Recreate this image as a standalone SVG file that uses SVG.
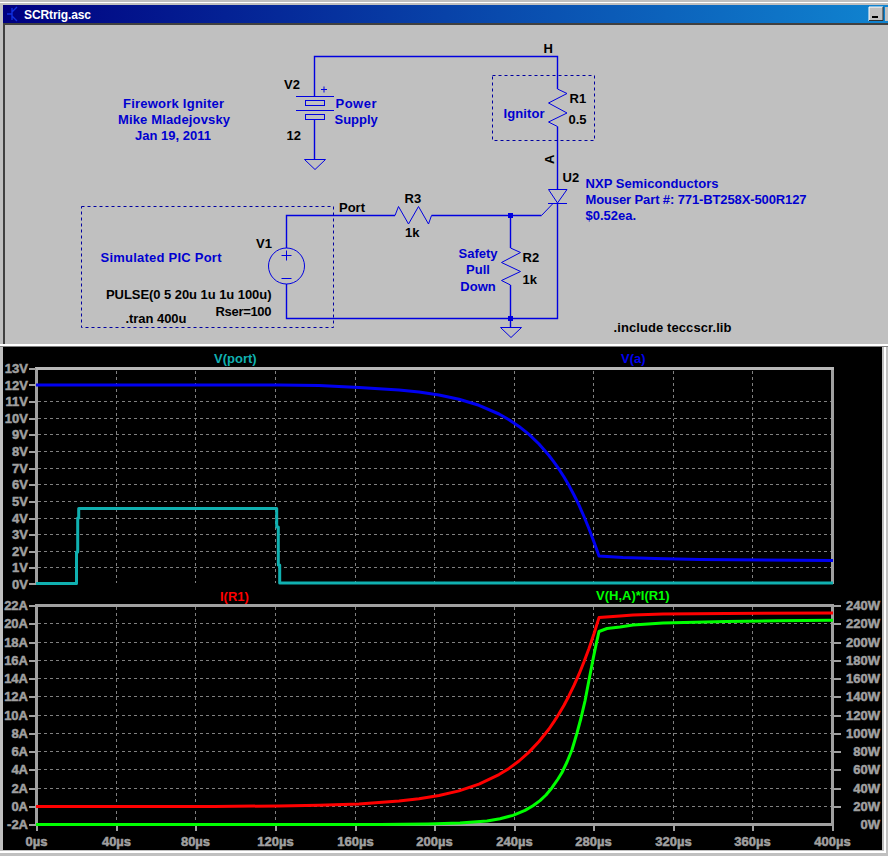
<svg xmlns="http://www.w3.org/2000/svg" width="888" height="856" viewBox="0 0 888 856">
<style>
text{font-family:"Liberation Sans",Arial,sans-serif;font-weight:700;font-size:13px}
.b{fill:#0000d0}.k{fill:#000}
.sym,.wire{fill:none;stroke:#0000e0;stroke-width:1}
.wire{stroke-width:1.4}
.dash{fill:none;stroke:#0000a0;stroke-width:1;stroke-dasharray:3 3}
.ax{fill:#a0a0a0;font-size:14px;font-weight:400;stroke:#a0a0a0;stroke-width:.5}
.xl{text-anchor:middle}.yl{text-anchor:end}
.grid{fill:none;stroke:#808080;stroke-width:1;stroke-dasharray:3 3;shape-rendering:crispEdges}
.frame{fill:none;stroke:#a0a0a0;stroke-width:3;shape-rendering:crispEdges}
.tick{fill:none;stroke:#a0a0a0;stroke-width:2;shape-rendering:crispEdges}
.tr{fill:none;stroke-width:3;stroke-linejoin:round}
</style>
<defs>
<linearGradient id="tb" x1="0" x2="1" y1="0" y2="0"><stop offset="0" stop-color="#000080"/><stop offset="1" stop-color="#1084d0"/></linearGradient>
</defs>
<g id="window">
<rect width="888" height="856" fill="#c0c0c0"/>
<rect y="2" width="888" height="1" fill="#fff"/>
<rect x="3" y="5" width="885" height="18" fill="url(#tb)"/>
<rect x="3" y="23" width="885" height="2" fill="#404040"/>
<rect x="3" y="25" width="2" height="320" fill="#404040"/>
<rect y="344" width="888" height="2" fill="#fff"/>
<rect y="346" width="888" height="1" fill="#808080"/>
<rect x="3" y="347" width="879" height="503" fill="#000"/>
<rect x="884" y="347" width="2" height="506" fill="#fff"/>
<rect y="851" width="886" height="2" fill="#fff"/>
<g fill="none" stroke="#1030e0" stroke-width="1.4"><path d="M7 14H12M12 8V20M12 12L17 7M12 16L17 21"/></g>
<text x="24" y="18.5" fill="#fff" style="font-size:12px" textLength="67" lengthAdjust="spacing">SCRtrig.asc</text>
<rect x="869" y="7" width="14" height="14" fill="#c0c0c0"/>
<path d="M869 21V7H883" fill="none" stroke="#fff"/>
<path d="M869 20.5H883V7" fill="none" stroke="#303030"/>
<rect x="872" y="16" width="6" height="2" fill="#000"/>
<rect x="885" y="7" width="3" height="14" fill="#c0c0c0"/>
</g>
<g id="wires">
<path class="wire" d="M314.5 96.5V56.5H557.5V89"/>
<path class="wire" d="M314.5 119.5V159.5"/>
<path class="wire" d="M557.5 126.5V189.5"/>
<path class="wire" d="M286.5 248V215.5H395"/>
<path class="wire" d="M431.5 215.5H541.5"/>
<path class="wire" d="M510.5 215.5V248"/>
<path class="wire" d="M510.5 285V327.5"/>
<path class="wire" d="M286.5 284V318.5H557.5V203"/>
<rect x="508" y="213" width="5" height="5" fill="#0000e0"/>
<rect x="508" y="316" width="5" height="5" fill="#0000e0"/>
</g>
<g id="V2">
<path class="sym" d="M296 96.5H334M296 110.5H334"/>
<rect class="sym" x="305.5" y="100.5" width="19" height="5"/>
<rect class="sym" x="305.5" y="114.5" width="19" height="5"/>
<path class="sym" d="M321 89.5H327M324 86.5V92.5"/>
<text class="k" x="284" y="89">V2</text>
<text class="k" x="286.5" y="140">12</text>
</g>
<g id="GND1"><path class="sym" d="M304.5 159.5H325.5L315 169.5Z"/></g>
<g id="GND2"><path class="sym" d="M500.5 327.5H521.5L511 337.5Z"/></g>
<g id="V1">
<circle class="sym" cx="286.5" cy="266" r="18"/>
<path class="sym" d="M281.5 255.5H291.5M286.5 250.5V260.5M281.5 278.5H291.5"/>
<text class="k" x="256" y="248">V1</text>
<text class="k" x="106" y="299" textLength="165.5">PULSE(0 5 20u 1u 1u 100u)</text>
<text class="k" x="215.5" y="316" textLength="56">Rser=100</text>
</g>
<g id="R3">
<path class="sym" d="M395 215.5L398.5 206.5L408.5 224L418.5 206.5L428.5 224L431.5 215.5"/>
<text class="k" x="404.5" y="203">R3</text>
<text class="k" x="405" y="237">1k</text>
</g>
<g id="R1">
<path class="sym" d="M557.5 89L567 93.5L548.5 103L567 113L548.5 122L557.5 126.5"/>
<text class="k" x="569.5" y="103">R1</text>
<text class="k" x="568.5" y="124">0.5</text>
</g>
<g id="R2">
<path class="sym" d="M510.5 248L520.5 252.5L501.5 262.5L520.5 271.5L501.5 280.5L510.5 285"/>
<text class="k" x="522.5" y="262">R2</text>
<text class="k" x="522.5" y="283.5">1k</text>
</g>
<g id="U2">
<path class="sym" d="M548.5 189.5H567L557.5 203Z"/>
<path class="sym" d="M548 203.5H567M552.5 204L541.5 215.5"/>
<text class="k" x="562.5" y="182">U2</text>
</g>
<g id="labels">
<rect class="dash" x="81.5" y="206.5" width="252" height="121"/>
<rect class="dash" x="492.5" y="75.5" width="102" height="65"/>
<text class="k" x="339" y="212">Port</text>
<text class="k" x="543.5" y="53">H</text>
<text class="k" transform="translate(554 164) rotate(-90)">A</text>
<text class="k" x="125.5" y="323" textLength="61">.tran 400u</text>
<text class="k" x="613.5" y="332" textLength="118">.include teccscr.lib</text>
<text class="b" x="123" y="108" textLength="101">Firework Igniter</text>
<text class="b" x="118" y="124" textLength="112">Mike Mladejovsky</text>
<text class="b" x="135" y="140">Jan 19, 2011</text>
<text class="b" x="335.5" y="108" textLength="41">Power</text>
<text class="b" x="334.5" y="124">Supply</text>
<text class="b" x="100.5" y="262" textLength="121">Simulated PIC Port</text>
<text class="b" x="503.5" y="118" textLength="41">Ignitor</text>
<text class="b" x="585.5" y="187.5" textLength="133">NXP Semiconductors</text>
<text class="b" x="585.5" y="204" textLength="221">Mouser Part #: 771-BT258X-500R127</text>
<text class="b" x="585.5" y="220">$0.52ea.</text>
<text class="b" x="478" y="258" text-anchor="middle">Safety</text>
<text class="b" x="478" y="274" text-anchor="middle">Pull</text>
<text class="b" x="478" y="290.5" text-anchor="middle">Down</text>
</g>
<g id="plot-top">
<path class="grid" d="M38 401.5H832M38 418.5H832M38 434.5H832M38 451.5H832M38 468.5H832M38 484.5H832M38 501.5H832M38 518.5H832M38 534.5H832M38 551.5H832M38 567.5H832"/>
<path class="grid" d="M116.5 371V583M195.5 371V583M275.5 371V583M355.5 371V583M434.5 371V583M514.5 371V583M593.5 371V583M673.5 371V583M752.5 371V583"/>
<path class="frame" d="M36.5 584V368.5H832.5V584"/>
<path class="frame" style="stroke:#b8b8b8" d="M35 368.5H834"/>
<path class="tick" d="M29 368.5H36M29 385H36M29 401.5H36M29 418.5H36M29 434.5H36M29 451.5H36M29 468.5H36M29 484.5H36M29 501.5H36M29 518.5H36M29 534.5H36M29 551.5H36M29 567.5H36M29 584H36"/>
<g class="ax yl">
<text x="28" y="373">13V</text><text x="28" y="390">12V</text><text x="28" y="406">11V</text><text x="28" y="423">10V</text><text x="28" y="439">9V</text><text x="28" y="456">8V</text><text x="28" y="473">7V</text><text x="28" y="489">6V</text><text x="28" y="506">5V</text><text x="28" y="523">4V</text><text x="28" y="539">3V</text><text x="28" y="556">2V</text><text x="28" y="572">1V</text><text x="28" y="589">0V</text>
</g>
<path class="tr" stroke="#0000f0" d="M36 385H279L319 385.6L359 387.4L399 389.9L419 392L439 395L459 399.2L479 405.3L499 414L509 419.7L519 426.4L529 434.4L539 444L549 455.5L554 462.1L559 469.2L564 477L569 485.6L574 495L579 505.2L584 516.5L589 528.7L594 542L599 556L623 557.5L655 558.5L700 559.5L833 560.5"/>
<path class="tr" stroke="#10b0b0" d="M36 583.5H76.5V552H77.7V518H78.7V508.5H276.7V527H278.3V565H279.7V583H833"/>
<text x="214" y="363" fill="#10b0b0">V(port)</text>
<text x="621" y="363" fill="#0000f0">V(a)</text>
</g>
<g id="plot-bottom">
<path class="grid" d="M38 623.5H832M38 642.5H832M38 660.5H832M38 678.5H832M38 696.5H832M38 715.5H832M38 733.5H832M38 751.5H832M38 769.5H832M38 788.5H832M38 806.5H832"/>
<path class="grid" d="M116.5 607V823M195.5 607V823M275.5 607V823M355.5 607V823M434.5 607V823M514.5 607V823M593.5 607V823M673.5 607V823M752.5 607V823"/>
<path class="frame" d="M36.5 824.5V605.5H832.5V824.5H36.5"/>
<path class="tick" d="M29 605.5H36M29 623.5H36M29 642.5H36M29 660.5H36M29 678.5H36M29 696.5H36M29 715.5H36M29 733.5H36M29 751.5H36M29 769.5H36M29 788.5H36M29 806.5H36M29 824.5H36"/>
<path class="tick" d="M833 605.5H841M833 623.5H841M833 642.5H841M833 660.5H841M833 678.5H841M833 696.5H841M833 715.5H841M833 733.5H841M833 751.5H841M833 769.5H841M833 788.5H841M833 806.5H841"/>
<path class="tick" d="M36.5 825V831M116.5 825V831M195.5 825V831M275.5 825V831M355.5 825V831M434.5 825V831M514.5 825V831M593.5 825V831M673.5 825V831M752.5 825V831M832.5 825V831"/>
<g class="ax yl">
<text x="28" y="610">22A</text><text x="28" y="628">20A</text><text x="28" y="647">18A</text><text x="28" y="665">16A</text><text x="28" y="683">14A</text><text x="28" y="701">12A</text><text x="28" y="720">10A</text><text x="28" y="738">8A</text><text x="28" y="756">6A</text><text x="28" y="774">4A</text><text x="28" y="793">2A</text><text x="28" y="811">0A</text><text x="28" y="829">-2A</text>
<text x="880" y="610">240W</text><text x="880" y="628">220W</text><text x="880" y="647">200W</text><text x="880" y="665">180W</text><text x="880" y="683">160W</text><text x="880" y="701">140W</text><text x="880" y="720">120W</text><text x="880" y="738">100W</text><text x="880" y="756">80W</text><text x="880" y="774">60W</text><text x="880" y="793">40W</text><text x="880" y="811">20W</text><text x="880" y="829">0W</text>
</g>
<g class="ax xl">
<text x="36.5" y="846">0µs</text><text x="116.5" y="846">40µs</text><text x="195.5" y="846">80µs</text><text x="275.5" y="846">120µs</text><text x="355.5" y="846">160µs</text><text x="434.5" y="846">200µs</text><text x="514.5" y="846">240µs</text><text x="593.5" y="846">280µs</text><text x="673.5" y="846">320µs</text><text x="752.5" y="846">360µs</text><text x="832.5" y="846">400µs</text>
</g>
<path class="tr" stroke="#ff0000" d="M36 806.5H214L279 805.9L319 805.2L359 803.9L399 801.1L419 798.8L439 795.5L459 790.9L479 784.1L499 774.6L509 768.4L519 761L529 752.1L539 741.5L549 729L554 721.6L559 713.8L564 705.2L569 695.7L574 685.4L579 674.2L584 661.8L589 648.4L594 633.7L599 617.6L620 616L633 615L663 614L726 613.5L833 613"/>
<path class="tr" stroke="#00ff00" d="M36 824.5H380L428 823.9L460 823.1L487 821L500 818.7L513 815.4L525 810.4L533 805.8L540 800.6L546 795L552 787.7L558 779L562 772.5L567 762L572 749.7L577 733L581 718L585 701L589 680L593.3 658L596 645L599 631.5L607 628.5L620 627L633 625L663 623L726 621.5L778 620.7L833 620.3"/>
<text x="220" y="601" fill="#ff0000">I(R1)</text>
<text x="596" y="600" fill="#00ff00">V(H,A)*I(R1)</text>
</g>
</svg>
